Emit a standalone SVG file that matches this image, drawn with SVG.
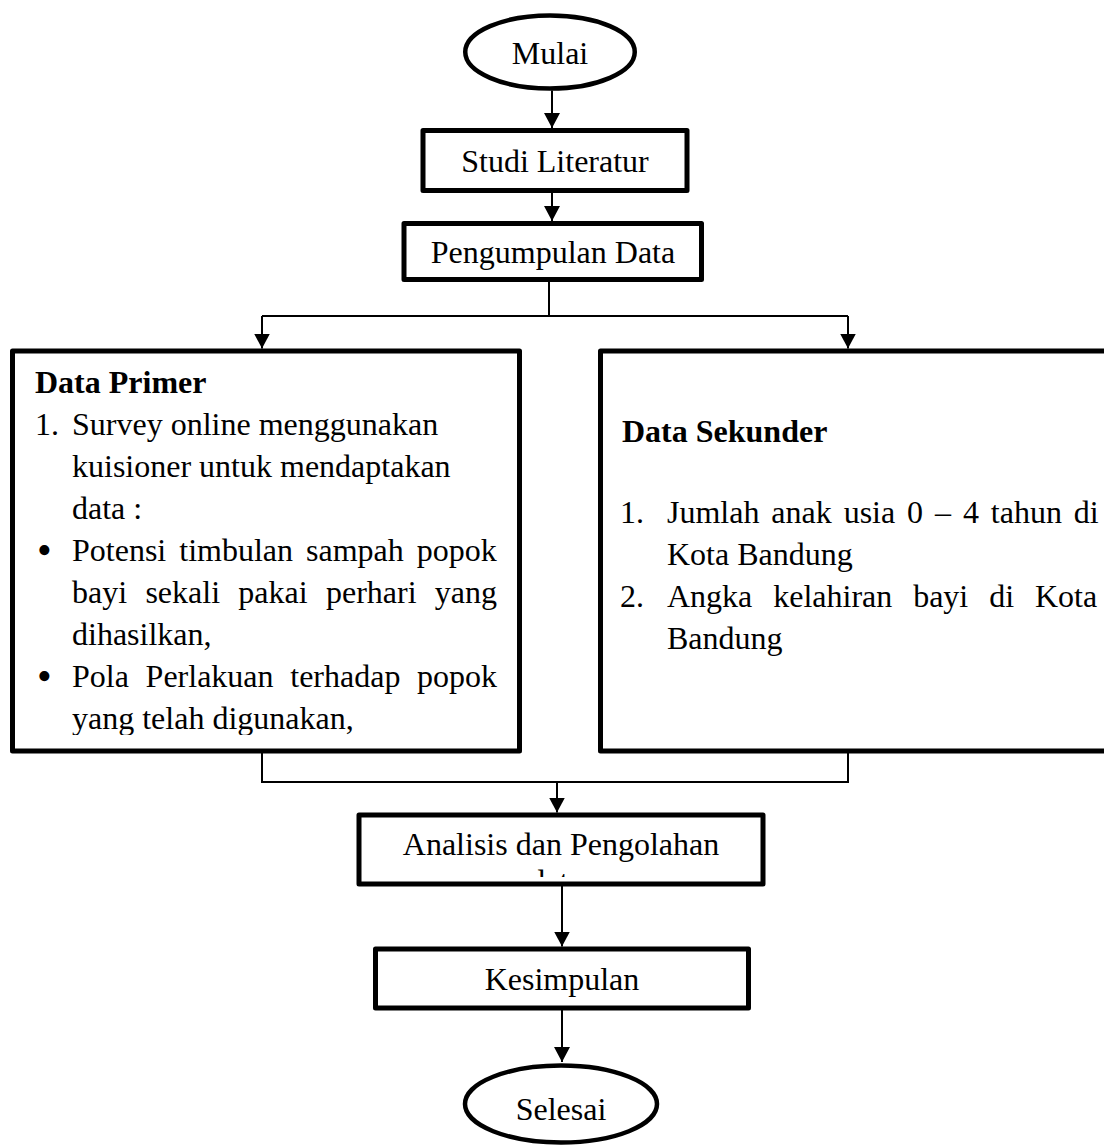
<svg xmlns="http://www.w3.org/2000/svg" width="1104" height="1146" viewBox="0 0 1104 1146">
  <style>
    .box { fill: #ffffff; stroke: #000000; stroke-width: 5; stroke-linejoin: round; }
    .oval { fill: #ffffff; stroke: #000000; stroke-width: 4.5; }
    .ln { fill: none; stroke: #000000; stroke-width: 2; }
    .t { font-family: "Liberation Serif", "Times New Roman", serif; font-size: 32px; fill: #000000; }
    .bul { font-family: "Liberation Serif", "Times New Roman", serif; font-size: 42px; fill: #000000; }
    .c { text-anchor: middle; }
    .b { font-weight: bold; }
  </style>
  <defs>
    <marker id="arr" viewBox="0 0 15 16" refX="15" refY="8" markerWidth="15" markerHeight="16" markerUnits="userSpaceOnUse" orient="auto">
      <path d="M0,0 L15,8 L0,16 Z" fill="#000000"/>
    </marker>
    <clipPath id="clipPrimer"><rect x="15" y="354" width="502" height="381"/></clipPath>
    <clipPath id="clipAnalisis"><rect x="362" y="818" width="398" height="59"/></clipPath>
  </defs>

  <g id="connectors">
    <path class="ln" d="M552,90.5 V128" marker-end="url(#arr)"/>
    <path class="ln" d="M552,193 V221" marker-end="url(#arr)"/>
    <path class="ln" d="M549,282 V316 M262,316 H848"/>
    <path class="ln" d="M262,316 V348.5" marker-end="url(#arr)"/>
    <path class="ln" d="M848,316 V348.5" marker-end="url(#arr)"/>
    <path class="ln" d="M262,753 V782 H848 V753"/>
    <path class="ln" d="M557,782 V812.5" marker-end="url(#arr)"/>
    <path class="ln" d="M562,886 V946.5" marker-end="url(#arr)"/>
    <path class="ln" d="M562,1010 V1062" marker-end="url(#arr)"/>
  </g>

  <g id="mulai">
    <ellipse class="oval" cx="550" cy="52" rx="84.75" ry="36.5"/>
    <text class="t c" x="550" y="64">Mulai</text>
  </g>

  <g id="studi-literatur">
    <rect class="box" x="423" y="130.5" width="264" height="60"/>
    <text class="t c" x="555" y="172">Studi Literatur</text>
  </g>

  <g id="pengumpulan-data">
    <rect class="box" x="404" y="223.5" width="297.5" height="56"/>
    <text class="t c" x="553" y="263">Pengumpulan Data</text>
  </g>

  <g id="data-primer">
    <rect class="box" x="12.5" y="351" width="507" height="400"/>
    <g clip-path="url(#clipPrimer)">
      <text class="t b" x="35" y="393">Data Primer</text>
      <text class="t" x="35" y="435">1.</text>
      <text class="t" x="72" y="435">Survey online menggunakan</text>
      <text class="t" x="72" y="477">kuisioner untuk mendaptakan</text>
      <text class="t" x="72" y="519">data :</text>
      <text class="bul" x="37" y="564">•</text>
      <text class="t" x="72" y="561" word-spacing="5">Potensi timbulan sampah popok</text>
      <text class="t" x="72" y="603" word-spacing="10.3">bayi sekali pakai perhari yang</text>
      <text class="t" x="72" y="645">dihasilkan,</text>
      <text class="bul" x="37" y="690">•</text>
      <text class="t" x="72" y="687" word-spacing="8.7">Pola Perlakuan terhadap popok</text>
      <text class="t" x="72" y="729">yang telah digunakan,</text>
    </g>
  </g>

  <g id="data-sekunder">
    <rect class="box" x="600.5" y="351" width="520" height="400"/>
    <text class="t b" x="622" y="442">Data Sekunder</text>
    <text class="t" x="620" y="523">1.</text>
    <text class="t" x="667" y="523" word-spacing="3.9">Jumlah anak usia 0 – 4 tahun di</text>
    <text class="t" x="667" y="565">Kota Bandung</text>
    <text class="t" x="620" y="607">2.</text>
    <text class="t" x="667" y="607" word-spacing="12.9">Angka kelahiran bayi di Kota</text>
    <text class="t" x="667" y="649">Bandung</text>
  </g>

  <g id="analisis">
    <rect class="box" x="359" y="815" width="404" height="69"/>
    <g clip-path="url(#clipAnalisis)">
      <text class="t c" x="561" y="855">Analisis dan Pengolahan</text>
      <text class="t c" x="556" y="892">data</text>
    </g>
  </g>

  <g id="kesimpulan">
    <rect class="box" x="375.5" y="949" width="373" height="59"/>
    <text class="t c" x="562" y="990">Kesimpulan</text>
  </g>

  <g id="selesai">
    <ellipse class="oval" cx="561" cy="1104" rx="96" ry="38.5"/>
    <text class="t c" x="561" y="1120">Selesai</text>
  </g>
</svg>
